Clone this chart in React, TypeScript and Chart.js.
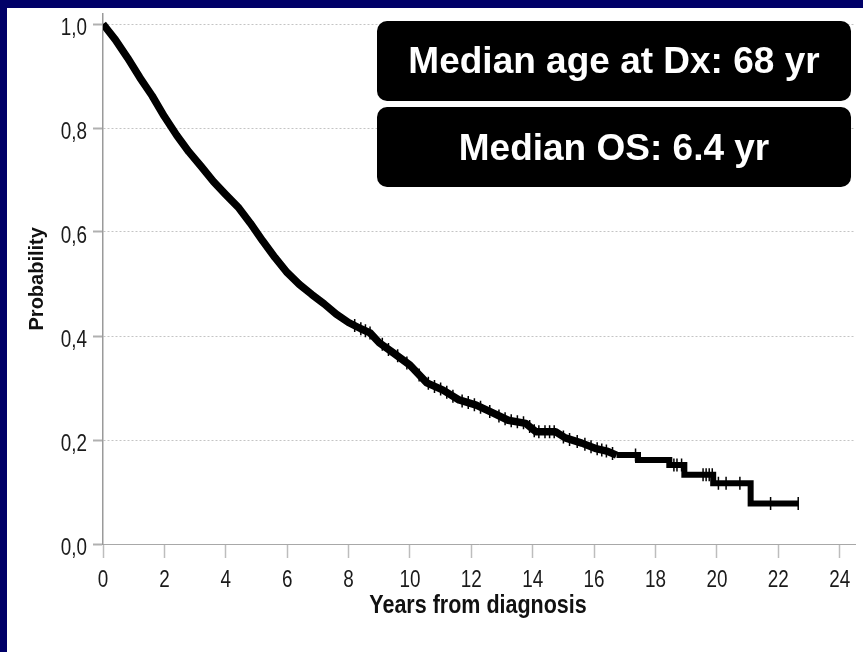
import React, { useEffect, useRef } from 'react';
import { Chart, registerables } from 'chart.js';

Chart.register(...registerables);

// Kaplan–Meier overall survival, dense early part (years, probability)
const earlyYears = [0, 0.4, 0.8, 1.2, 1.6, 2.0, 2.4, 2.8, 3.2, 3.6, 4.0, 4.4, 4.8, 5.2, 5.6, 6.0, 6.4, 6.8, 7.2, 7.6, 8.0, 8.4, 8.7, 9.0, 9.47, 10.0, 10.55, 11.08, 11.6, 12.16, 12.7, 13.2, 13.77, 14.1, 14.74, 15.06, 15.6, 16.03, 16.45, 16.73];
const earlySurvival = [1.0, 0.97, 0.935, 0.897, 0.862, 0.822, 0.786, 0.754, 0.726, 0.697, 0.672, 0.648, 0.617, 0.583, 0.551, 0.522, 0.499, 0.48, 0.462, 0.442, 0.426, 0.414, 0.406, 0.387, 0.367, 0.344, 0.31, 0.296, 0.277, 0.267, 0.252, 0.238, 0.232, 0.216, 0.216, 0.204, 0.194, 0.184, 0.178, 0.171];

// Sparse tail drawn as steps
const stepYears = [16.73, 17.43, 18.45, 18.94, 19.88, 21.1, 22.65];
const stepSurvival = [0.171, 0.1615, 0.152, 0.133, 0.117, 0.078, 0.078];

// Censored observations
const censorYears = [8.2, 8.4, 8.55, 8.7, 9.1, 9.3, 9.6, 9.9, 10.3, 10.6, 10.8, 11.0, 11.2, 11.4, 11.7, 11.9, 12.1, 12.3, 12.6, 12.9, 13.1, 13.3, 13.5, 13.7, 13.9, 14.05, 14.2, 14.4, 14.55, 14.7, 15.0, 15.2, 15.45, 15.7, 15.9, 16.1, 16.25, 16.4, 16.6, 17.35, 18.6, 18.7, 18.85, 19.55, 19.65, 19.75, 19.85, 20.05, 20.3, 20.75, 21.75, 22.65];
const censorSurvival = [0.42, 0.414, 0.41, 0.406, 0.384, 0.374, 0.362, 0.348, 0.325, 0.309, 0.303, 0.298, 0.292, 0.284, 0.275, 0.272, 0.268, 0.263, 0.255, 0.246, 0.241, 0.237, 0.235, 0.233, 0.226, 0.218, 0.216, 0.216, 0.216, 0.216, 0.206, 0.201, 0.197, 0.192, 0.187, 0.183, 0.181, 0.179, 0.174, 0.171, 0.152, 0.152, 0.152, 0.133, 0.133, 0.133, 0.133, 0.117, 0.117, 0.117, 0.078, 0.078];

const xTickLabels = ['0', '2', '4', '6', '8', '10', '12', '14', '16', '18', '20', '22', '24'];
const yTickLabels = ['0,0', '0,2', '0,4', '0,6', '0,8', '1,0'];
const xTitle = 'Years from diagnosis';
const yTitle = 'Probability';

const infoLines = ['Median age at Dx: 68 yr', 'Median OS: 6.4 yr'];

const SANS = '"Liberation Sans", Arial, Helvetica, sans-serif';

// Axis labels in a narrow cut, placed on the chart's own scales
const narrowAxisText = {
  id: 'narrowAxisText',
  afterDraw(chart: any) {
    const { ctx } = chart;
    const x = chart.scales.x;
    const y = chart.scales.y;
    const drawNarrow = (text: string, px: number, py: number, align: CanvasTextAlign, sx: number) => {
      ctx.save();
      ctx.translate(px, py);
      ctx.scale(sx, 1);
      ctx.textAlign = align;
      ctx.textBaseline = 'alphabetic';
      ctx.fillText(text, 0, 0);
      ctx.restore();
    };
    ctx.save();
    ctx.fillStyle = '#1a1a1a';
    ctx.font = `23px ${SANS}`;
    x.ticks.forEach((t: any, i: number) => {
      drawNarrow(xTickLabels[i], x.getPixelForValue(t.value), x.top + 43, 'center', 0.82);
    });
    y.ticks.forEach((t: any, i: number) => {
      drawNarrow(yTickLabels[i], y.right - 16, y.getPixelForValue(t.value) + 10.5, 'right', 0.82);
    });
    ctx.fillStyle = '#111111';
    ctx.font = `bold 25px ${SANS}`;
    drawNarrow(xTitle, (x.left + x.right) / 2 - 1, x.top + 69, 'center', 0.86);
    ctx.restore();
  },
};

const infoBoxes = {
  id: 'infoBoxes',
  afterDraw(chart: Chart) {
    const ctx = chart.ctx;
    ctx.save();
    infoLines.forEach((line, i) => {
      const x = 377;
      const y = 21 + i * 86;
      const w = 474;
      const h = 80;
      ctx.fillStyle = '#000000';
      ctx.beginPath();
      ctx.roundRect(x, y, w, h, 10);
      ctx.fill();
      ctx.fillStyle = '#ffffff';
      ctx.font = `bold 37px ${SANS}`;
      ctx.textAlign = 'center';
      ctx.textBaseline = 'alphabetic';
      ctx.fillText(line, x + w / 2, y + 52 + i);
    });
    ctx.restore();
  },
};

export default function App() {
  const canvasRef = useRef<HTMLCanvasElement | null>(null);

  useEffect(() => {
    const canvas = canvasRef.current;
    if (!canvas) return;
    const chart = new Chart(canvas, {
      type: 'line',
      data: {
        datasets: [
          {
            label: 'OS',
            data: earlyYears.map((t, i) => ({ x: t, y: earlySurvival[i] })),
            borderColor: '#000000',
            borderWidth: 7.5,
            pointRadius: 0,
            borderJoinStyle: 'round',
            tension: 0,
          },
          {
            label: 'OS tail',
            data: stepYears.map((t, i) => ({ x: t, y: stepSurvival[i] })),
            borderColor: '#000000',
            borderWidth: 6,
            pointRadius: 0,
            stepped: 'before',
            borderJoinStyle: 'miter',
          },
          {
            label: 'Censored',
            data: censorYears.map((t, i) => ({ x: t, y: censorSurvival[i] })),
            showLine: false,
            pointStyle: 'line',
            rotation: 90,
            pointRadius: 6.5,
            pointBorderWidth: 1.5,
            borderColor: '#000000',
            pointBorderColor: '#000000',
          },
        ],
      },
      options: {
        responsive: false,
        animation: false,
        events: [],
        layout: { padding: { left: 0, right: 0.5, top: 13.6, bottom: 0 } },
        plugins: {
          legend: { display: false },
          tooltip: { enabled: false },
        },
        scales: {
          x: {
            type: 'linear',
            min: 0,
            max: 24.5,
            afterFit: (scale: any) => { scale.height = 108; },
            ticks: {
              display: false,
              stepSize: 2,
              includeBounds: false,
              autoSkip: false,
              maxRotation: 0,
            },
            grid: {
              drawOnChartArea: false,
              drawTicks: true,
              tickLength: 14,
              tickColor: '#bdbdbd',
              tickWidth: 1.5,
            },
            border: { display: true, color: '#a8a8a8', width: 1 },
          },
          y: {
            type: 'linear',
            min: 0,
            max: 1.02,
            afterFit: (scale: any) => { scale.width = 103; },
            ticks: {
              display: false,
              stepSize: 0.2,
              includeBounds: false,
            },
            grid: {
              color: '#c4c4c4',
              lineWidth: 1,
              drawTicks: true,
              tickLength: 10,
              tickColor: '#b0b0b0',
              tickWidth: 2,
            },
            border: { display: true, color: '#9a9a9a', width: 1.5, dash: [2, 2] },
            title: {
              display: true,
              text: yTitle,
              color: '#111111',
              font: { family: SANS, size: 20, weight: 'bold' },
              padding: { top: 25, bottom: 0 },
            },
          },
        },
      },
      plugins: [narrowAxisText, infoBoxes],
    });
    return () => chart.destroy();
  }, []);

  return (
    <div style={{ position: 'fixed', left: 0, top: 0, width: 863, height: 652, background: '#000068', overflow: 'hidden' }}>
      <div style={{ position: 'absolute', left: 7, top: 8, width: 856, height: 644, background: '#ffffff' }} />
      <canvas ref={canvasRef} width={863} height={652} style={{ position: 'absolute', left: 0, top: 0, display: 'block' }} />
    </div>
  );
}
